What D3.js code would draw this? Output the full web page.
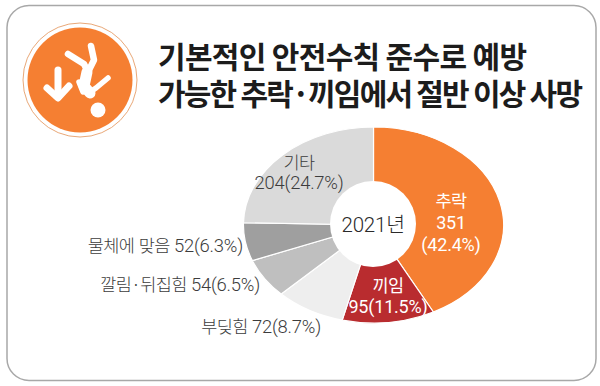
<!DOCTYPE html>
<html>
<head>
<meta charset="utf-8">
<script src="https://cdn.jsdelivr.net/npm/d3@7"></script>
<style>
html,body{margin:0;padding:0;background:#fff;}
text{font-family:"Noto Sans CJK KR","Noto Sans",sans-serif;}
</style>
</head>
<body>
<svg id="chart" width="600" height="386"></svg>
<script>
//chart data
var categories=['추락','끼임','부딪힘','깔림·뒤집힘','물체에 맞음','기타'];
var counts=[351,95,72,54,52,204];
var shares=['42.4%','11.5%','8.7%','6.5%','6.3%','24.7%'];
var sliceColors=['#f57f32','#b92c2f','#eeeeee','#bfbfbf','#9f9f9f','#dadada'];
var titleLines=['기본적인 안전수칙 준수로 예방','가능한 추락·끼임에서 절반 이상 사망'];
var titleWidths=[369,425];
var centerLabel='2021년';

var svg=d3.select('#chart');

//card
svg.append('rect')
  .attr('x',7).attr('y',5.5).attr('width',589).attr('height',375)
  .attr('rx',22)
  .attr('fill','#fff').attr('stroke','#a8a8a8').attr('stroke-width',1.5);

//icon
var icon=svg.append('g');
icon.append('circle').attr('cx',80).attr('cy',80).attr('r',57)
  .attr('fill','#fff').attr('stroke','#e9a878').attr('stroke-width',1);
icon.append('circle').attr('cx',80).attr('cy',80).attr('r',52.5).attr('fill','#f57f32');
var limb=d3.line().curve(d3.curveLinear);
function stroke(pts,w){
  icon.append('path').attr('d',limb(pts))
    .attr('fill','none').attr('stroke','#fff').attr('stroke-width',w)
    .attr('stroke-linecap','round').attr('stroke-linejoin','round');
}
stroke([[58,70],[58,97]],7);
stroke([[47,88],[58,98],[69,86]],7);
stroke([[91,46],[94,60],[88,72]],6.5);
stroke([[68,54],[84,64],[88,72]],6.5);
stroke([[87,72],[84,86],[90,93]],11);
stroke([[108,78],[96,88],[90,92]],5.5);
stroke([[79,82],[83,92]],5.5);
icon.append('circle').attr('cx',98).attr('cy',110).attr('r',7.5).attr('fill','#fff');

//title
svg.selectAll('.title').data(titleLines).join('text')
  .attr('class','title')
  .attr('x',158)
  .attr('y',(d,i)=>68+i*37)
  .attr('font-size',30)
  .attr('font-weight',700)
  .attr('fill','#1c1c1c')
  .attr('textLength',(d,i)=>titleWidths[i])
  .attr('lengthAdjust','spacing')
  .text(d=>d);

//pie is an ellipse: unit pie scaled on x, hole stays a circle
var pie=d3.pie().sort(null).value(d=>d);
var arc=d3.arc().innerRadius(0).outerRadius(98);
var pieG=svg.append('g').attr('transform','translate(373.5,225) scale(1.327,1)');
pieG.selectAll('path').data(pie(counts)).join('path')
  .attr('d',arc)
  .attr('fill',(d,i)=>sliceColors[i])
  .attr('stroke','#fff')
  .attr('stroke-width',1.2)
  .attr('vector-effect','non-scaling-stroke');
svg.append('circle').attr('cx',373).attr('cy',224).attr('r',43).attr('fill','#fff');

//labels: hangul and digits come from different fonts in the original
function label(x,y,txt,color,anchor,size,weight,hangulSize){
  size=size||18.4;
  var t=svg.append('text').attr('x',x).attr('y',y)
    .attr('text-anchor',anchor||'middle')
    .attr('font-weight',weight||300)
    .attr('fill',color);
  txt.split(/([가-힣·]+)/).filter(s=>s).forEach(function(part){
    var hangul=/[가-힣]/.test(part);
    t.append('tspan')
      .style('font-family',hangul?'"Noto Sans CJK KR"':'Roboto')
      .attr('font-size',hangul?(hangulSize||17.5):size)
      .attr('letter-spacing',hangul?-0.6:-0.2)
      .text(part);
  });
}
label(373,232,centerLabel,'#2a2a2a','middle',20.5,300,20.5);
label(451,207,categories[0],'#fff','middle',18,400);
label(451,229,String(counts[0]),'#fff','middle',18,400);
label(451,251,'('+shares[0]+')','#fff','middle',18,400);
label(388,292,categories[1],'#fff','middle',18,400);
label(388,313,counts[1]+'('+shares[1]+')','#fff','middle',18,400);
label(299,169,categories[5],'#3c3c3c');
label(299,189,counts[5]+'('+shares[5]+')','#3c3c3c');
label(243,252,categories[4]+' '+counts[4]+'('+shares[4]+')','#3c3c3c','end');
label(260,291,categories[3]+' '+counts[3]+'('+shares[3]+')','#3c3c3c','end');
label(321,333,categories[2]+' '+counts[2]+'('+shares[2]+')','#3c3c3c','end');
</script>
</body>
</html>
